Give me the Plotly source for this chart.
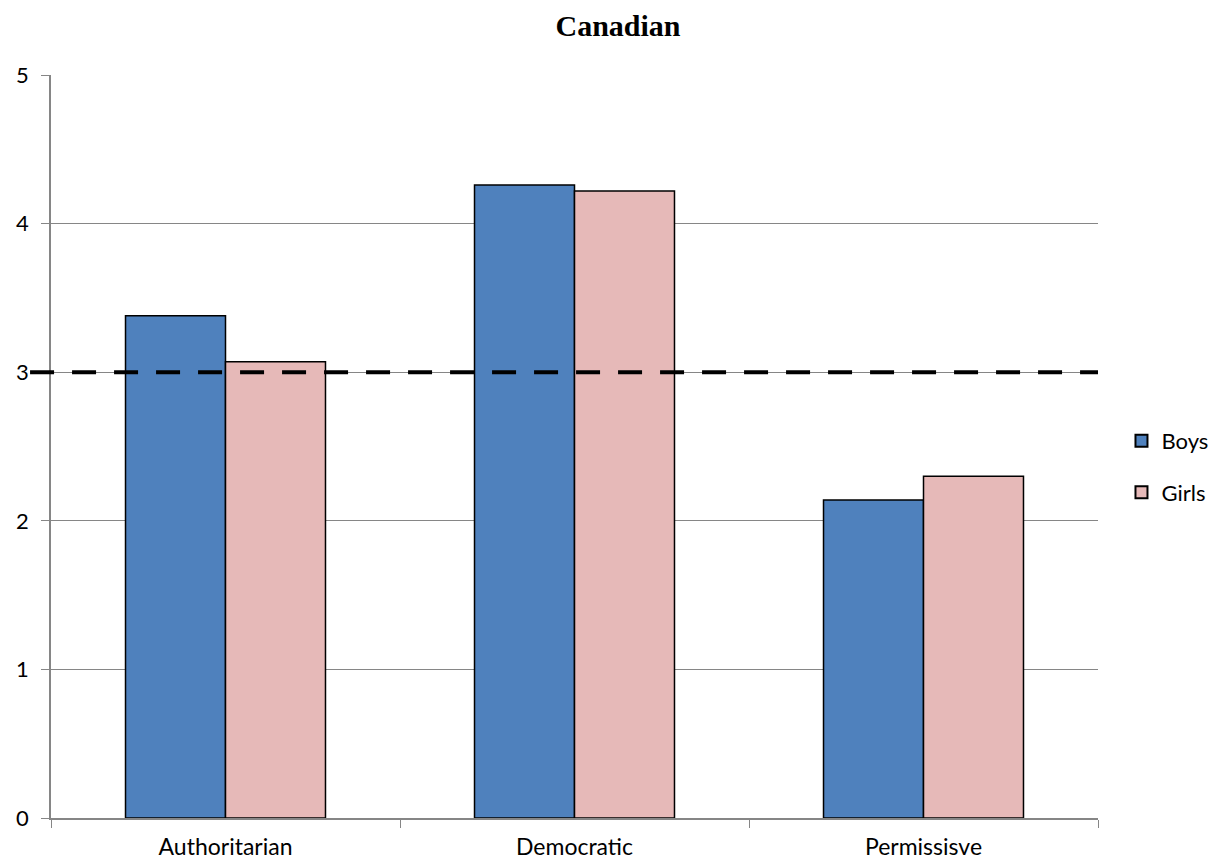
import plotly.graph_objects as go

categories = ["Authoritarian", "Democratic", "Permissisve"]
boys = [3.38, 4.26, 2.14]
girls = [3.07, 4.22, 2.30]
reference_level = 3
y_ticks = [0, 1, 2, 3, 4, 5]

fig = go.Figure()
fig.add_trace(go.Bar(
    x=categories, y=boys, name="Boys", legendgroup="boys",
    marker=dict(color="#4F81BD", line=dict(color="#000000", width=1.5)),
))
fig.add_trace(go.Bar(
    x=categories, y=girls, name="Girls", legendgroup="girls",
    marker=dict(color="#E6B9B8", line=dict(color="#000000", width=1.5)),
))

# dashed reference line across the plot
fig.add_shape(
    type="line", xref="paper", yref="y",
    x0=-0.02, x1=1.0, y0=reference_level, y1=reference_level,
    line=dict(color="#000000", width=4, dash="24px,18px"),
    layer="above",
)

fig.update_layout(
    width=1219, height=863,
    margin=dict(l=51, r=121, t=75, b=45, autoexpand=False),
    paper_bgcolor="white", plot_bgcolor="white",
    title=dict(
        text="<b>Canadian</b>", x=0.507, xanchor="center", y=0.971, yanchor="middle",
        xref="container",
        font=dict(family="Liberation Serif", size=30, color="#000000"),
    ),
    barmode="group", bargap=0.427, bargroupgap=0,
    font=dict(family="Lato, Open Sans, sans-serif", size=22, color="#000000"),
    legend=dict(
        xref="container", yref="container",
        x=0.920, y=0.459, xanchor="left", yanchor="middle",
        font=dict(size=22), itemsizing="constant", tracegroupgap=20,
        traceorder="grouped", itemwidth=30, bgcolor="rgba(0,0,0,0)",
    ),
    showlegend=True,
)
fig.update_xaxes(
    showline=True, linecolor="#868686", linewidth=1.5,
    ticks="outside", ticklen=8, tickcolor="#868686",
    tickson="boundaries", showgrid=False, automargin=False,
    tickfont=dict(size=23), ticklabelstandoff=8,
)
fig.update_yaxes(
    range=[0, 5], tickvals=y_ticks,
    showline=True, linecolor="#868686", linewidth=1.5,
    ticks="outside", ticklen=8, tickcolor="#868686",
    showgrid=True, gridcolor="#868686", gridwidth=1, automargin=False,
    zeroline=False, tickfont=dict(size=22), ticklabelstandoff=8,
)

fig.write_html("out.html")
